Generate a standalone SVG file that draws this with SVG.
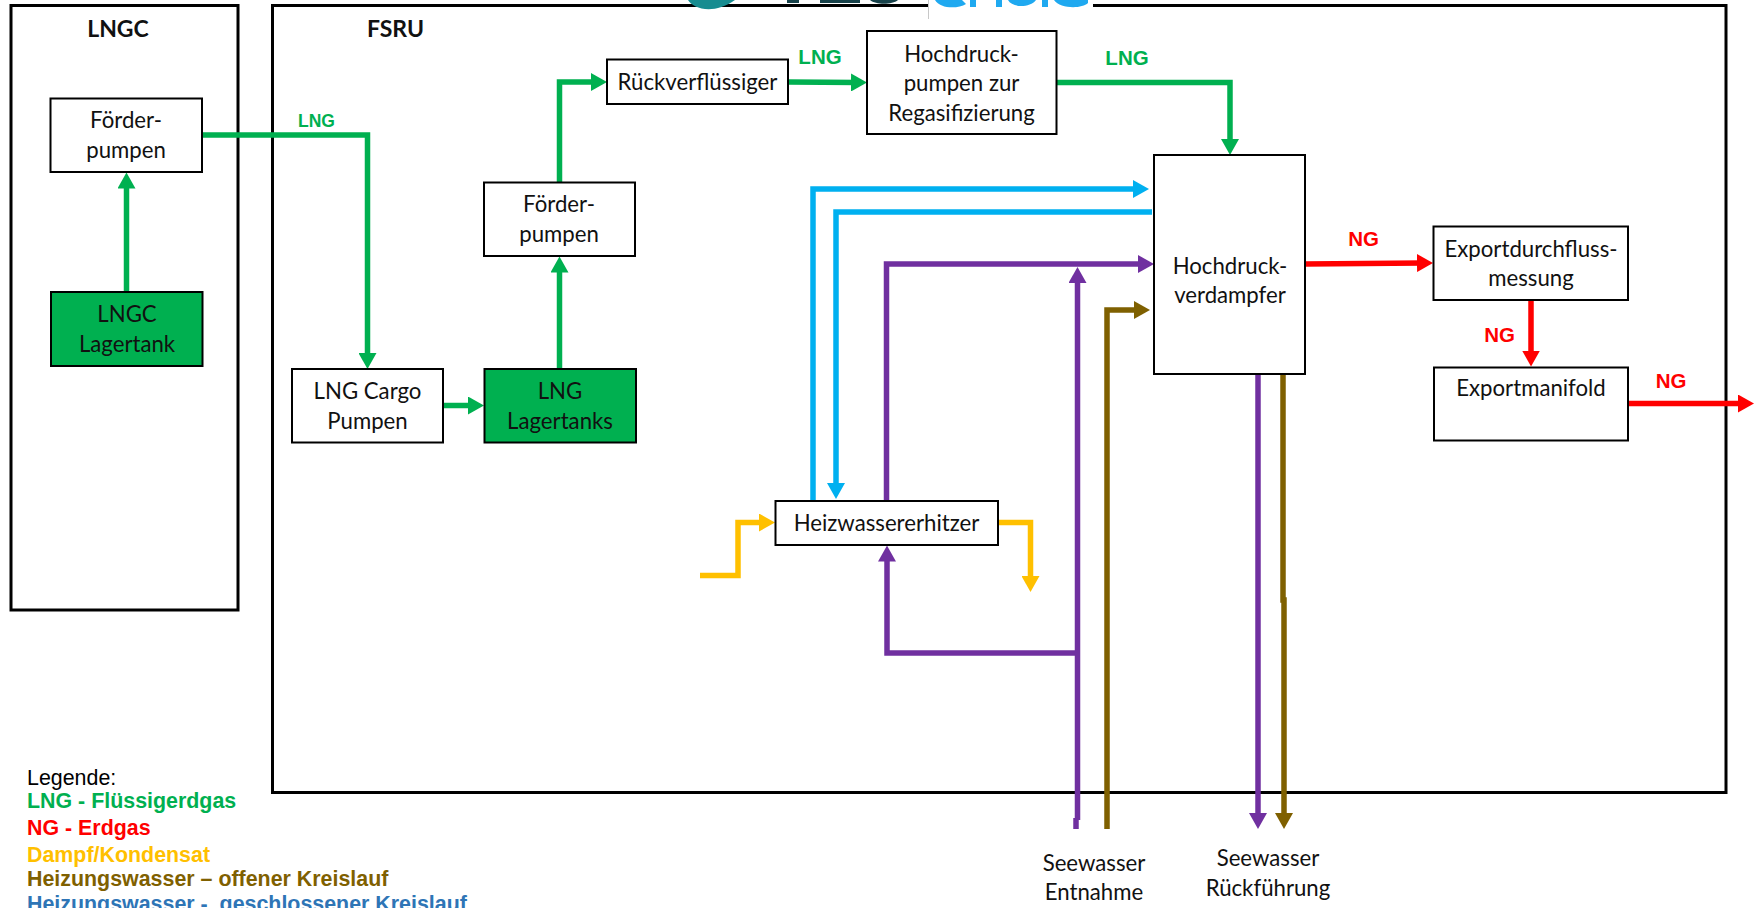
<svg xmlns="http://www.w3.org/2000/svg" width="1759" height="908" viewBox="0 0 1759 908">
<style>
.frame{fill:none;stroke:#000;stroke-width:3}
.box{fill:#fff;stroke:#000;stroke-width:2}
.tank{fill:#00B050;stroke:#000;stroke-width:2}
.t{font-family:Lato,"Noto Sans",sans-serif;font-size:22.2px;fill:#111;text-anchor:middle}
.tb{font-family:Lato,"Noto Sans",sans-serif;font-size:23px;font-weight:700;fill:#111;text-anchor:middle}
.l{font-family:"Liberation Sans",Arial,sans-serif;font-weight:700;font-size:20.500px;text-anchor:middle}
.g{fill:#00B050}.r{fill:#FF0000}
.lg{font-family:"Liberation Sans",Arial,sans-serif;font-size:21.400px;font-weight:700;white-space:pre}
.c{fill:none;stroke-width:5.500}
.cg{stroke:#00B050}.cr{stroke:#FF0000}.cb{stroke:#00B0F0}.cp{stroke:#7030A0}.cn{stroke:#7F6000}.cy{stroke:#FFC000}
</style>
<defs>
<marker id="ag" markerUnits="userSpaceOnUse" markerWidth="16" markerHeight="18" refX="6" refY="9" orient="auto"><path d="M0 0L16 9L0 18z" fill="#00B050"/></marker>
<marker id="ar" markerUnits="userSpaceOnUse" markerWidth="16" markerHeight="18" refX="6" refY="9" orient="auto"><path d="M0 0L16 9L0 18z" fill="#FF0000"/></marker>
<marker id="ab" markerUnits="userSpaceOnUse" markerWidth="16" markerHeight="18" refX="6" refY="9" orient="auto"><path d="M0 0L16 9L0 18z" fill="#00B0F0"/></marker>
<marker id="ap" markerUnits="userSpaceOnUse" markerWidth="16" markerHeight="18" refX="6" refY="9" orient="auto"><path d="M0 0L16 9L0 18z" fill="#7030A0"/></marker>
<marker id="an" markerUnits="userSpaceOnUse" markerWidth="16" markerHeight="18" refX="6" refY="9" orient="auto"><path d="M0 0L16 9L0 18z" fill="#7F6000"/></marker>
<marker id="ay" markerUnits="userSpaceOnUse" markerWidth="16" markerHeight="18" refX="6" refY="9" orient="auto"><path d="M0 0L16 9L0 18z" fill="#FFC000"/></marker>
</defs>
<rect width="1759" height="908" fill="#fff"/>
<g id="frames">
<rect class="frame" x="11" y="5.500" width="227" height="604.500"/>
<rect class="frame" x="272.500" y="5.500" width="1453.500" height="787"/>
</g>
<g id="logo">
<rect x="928" y="0" width="165" height="19" fill="#fff"/>
<path d="M928.500 0V19" stroke="#C8C8C8" fill="none"/>
<path d="M688 0C693 9 714 15 735 0z" fill="#178C90"/>
<path d="M787 0h12v3h-12zM820 0h40v3h-40zM870 0C876 5 892 5 898 0z" fill="#17424A"/>
<path d="M935 0C940 9 958 9 966 4L962 0zM970 0h6v7h-6zM996 0h6v7h-6zM1008 0C1012 8 1030 8 1036 0zM1042 0h6v7h-6zM1054 0C1060 9 1082 9 1088 3V0z" fill="#1FA9F0"/>
</g>
<g id="connectors">
<path class="c cg" d="M126.500 292V182.500" marker-end="url(#ag)"/>
<path class="c cg" d="M202 135H367.500V359" marker-end="url(#ag)"/>
<path class="c cg" d="M443 405.500H474" marker-end="url(#ag)"/>
<path class="c cg" d="M559.500 369V266.500" marker-end="url(#ag)"/>
<path class="c cg" d="M559.500 182V82H597" marker-end="url(#ag)"/>
<path class="c cg" d="M788 82L857 82.500" marker-end="url(#ag)"/>
<path class="c cg" d="M1056 82.500H1230V145" marker-end="url(#ag)"/>
<path class="c cb" d="M813 502V189H1139" marker-end="url(#ab)"/>
<path class="c cb" d="M1152 212H836V489" marker-end="url(#ab)"/>
<path class="c cp" d="M886.500 501V264H1144" marker-end="url(#ap)"/>
<path class="c cp" d="M1077.500 820V277" marker-end="url(#ap)"/>
<path class="c cp" d="M1076 818V829"/>
<path class="c cp" d="M1077 653H887V555.500" marker-end="url(#ap)"/>
<path class="c cn" d="M1107 829V310H1140" marker-end="url(#an)"/>
<path class="c cp" d="M1258 374V819" marker-end="url(#ap)"/>
<path class="c cn" d="M1283 374V600H1284V819" marker-end="url(#an)"/>
<path class="c cy" d="M700 575.500H738V522.500H765" marker-end="url(#ay)"/>
<path class="c cy" d="M998 522.500H1030.500V582" marker-end="url(#ay)"/>
<path class="c cr" d="M1305 264L1423 263" marker-end="url(#ar)"/>
<path class="c cr" d="M1531 300V356.500" marker-end="url(#ar)"/>
<path class="c cr" d="M1628 403.500H1744" marker-end="url(#ar)"/>
</g>
<g id="n-lngc-title"><text class="tb" x="118" y="37">LNGC</text></g>
<g id="n-fsru-title"><text class="tb" x="395.500" y="37">FSRU</text></g>
<g id="n-foerder1"><rect class="box" x="50.500" y="98.500" width="151.500" height="73.500"/><text class="t" x="126" y="128">Förder-</text><text class="t" x="126" y="158">pumpen</text></g>
<g id="n-lngc-tank"><rect class="tank" x="51" y="292" width="151.500" height="74"/><text class="t" x="127" y="322">LNGC</text><text class="t" x="127" y="352">Lagertank</text></g>
<g id="n-cargo"><rect class="box" x="292" y="369" width="151" height="73.500"/><text class="t" x="367.500" y="399">LNG Cargo</text><text class="t" x="367.500" y="429">Pumpen</text></g>
<g id="n-tanks"><rect class="tank" x="484.500" y="369" width="151.500" height="73.500"/><text class="t" x="560" y="399">LNG</text><text class="t" x="560" y="429">Lagertanks</text></g>
<g id="n-foerder2"><rect class="box" x="484" y="182.500" width="151" height="73.500"/><text class="t" x="559" y="212">Förder-</text><text class="t" x="559" y="242">pumpen</text></g>
<g id="n-rueck"><rect class="box" x="607" y="59.500" width="181" height="44.500"/><text class="t" x="697.500" y="90">Rückverflüssiger</text></g>
<g id="n-hochpumpe"><rect class="box" x="867" y="31" width="189.500" height="103"/><text class="t" x="961.500" y="62">Hochdruck-</text><text class="t" x="961.500" y="91">pumpen zur</text><text class="t" x="961.500" y="121">Regasifizierung</text></g>
<g id="n-verdampfer"><rect class="box" x="1154" y="155" width="151" height="219"/><text class="t" x="1230" y="274">Hochdruck-</text><text class="t" x="1230" y="303">verdampfer</text></g>
<g id="n-heiz"><rect class="box" x="775.500" y="501" width="222.500" height="44"/><text class="t" x="886.500" y="531">Heizwassererhitzer</text></g>
<g id="n-export"><rect class="box" x="1433.500" y="226.500" width="194.500" height="73.500"/><text class="t" x="1531" y="257">Exportdurchfluss-</text><text class="t" x="1531" y="286">messung</text></g>
<g id="n-manifold"><rect class="box" x="1434" y="367.500" width="194" height="73"/><text class="t" x="1531" y="396">Exportmanifold</text></g>
<g id="n-ent"><text class="t" x="1094" y="870.500">Seewasser</text><text class="t" x="1094" y="899.500">Entnahme</text></g>
<g id="n-rue"><text class="t" x="1268" y="865.500">Seewasser</text><text class="t" x="1268" y="895.500">Rückführung</text></g>
<g id="labels">
<text class="l g" x="316.500" y="126.500" style="font-size:17.500px">LNG</text>
<text class="l g" x="820" y="64">LNG</text>
<text class="l g" x="1127" y="65">LNG</text>
<text class="l r" x="1363.500" y="246">NG</text>
<text class="l r" x="1499.500" y="342">NG</text>
<text class="l r" x="1671" y="388">NG</text>
</g>
<g id="legend">
<text class="lg" x="27" y="785" style="font-weight:400" fill="#000">Legende:</text>
<text class="lg" x="27" y="808" fill="#00B050">LNG - Flüssigerdgas</text>
<text class="lg" x="27" y="835" fill="#FF0000">NG - Erdgas</text>
<text class="lg" x="27" y="862" fill="#FFC000">Dampf/Kondensat</text>
<text class="lg" x="27" y="886" fill="#7F6000">Heizungswasser – offener Kreislauf</text>
<text class="lg" x="27" y="911" fill="#2E75B6">Heizungswasser -  geschlossener Kreislauf</text>
</g>
</svg>
